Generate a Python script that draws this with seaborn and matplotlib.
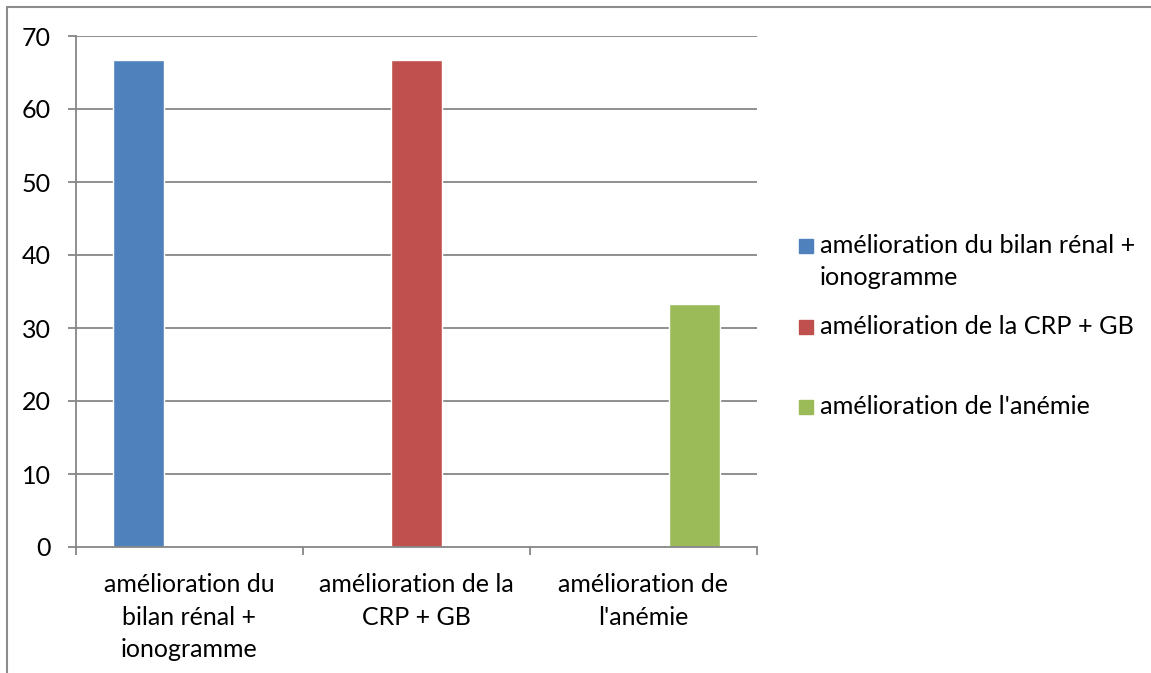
import matplotlib
matplotlib.use("Agg")
import matplotlib.pyplot as plt
from matplotlib.lines import Line2D
from matplotlib.patches import Rectangle
import numpy as np
import pandas as pd
import seaborn as sns

categories = [
    "amélioration du\nbilan rénal +\nionogramme",
    "amélioration de la\nCRP + GB",
    "amélioration de\nl'anémie",
]
series = [
    "amélioration du bilan rénal +\nionogramme",
    "amélioration de la CRP + GB",
    "amélioration de l'anémie",
]
values = [66.7, 66.7, 33.3]
colors = ["#4F81BD", "#C0504D", "#9BBB59"]
yticks = [0, 10, 20, 30, 40, 50, 60, 70]

# each series only has a value in its own category
rows = []
for i, cat in enumerate(categories):
    for j, s in enumerate(series):
        rows.append({"cat": cat, "series": s, "value": values[j] if i == j else np.nan})
df = pd.DataFrame(rows)

sns.set_style("white")
plt.rcParams["font.family"] = ["Lato", "DejaVu Sans"]

fig = plt.figure(figsize=(11.51, 6.73), dpi=100)
ax = fig.add_axes([76 / 1151, 1 - 547 / 673, (757 - 76) / 1151, (547 - 36) / 673])

sns.barplot(data=df, x="cat", y="value", hue="series", order=categories,
            hue_order=series, palette=colors, width=0.674, dodge=True,
            saturation=1, legend=False, ax=ax, errorbar=None)

grid_c = "#868686"
ax.set_ylim(0, 70)
ax.set_xlim(-0.5, 2.5)
ax.set_yticks(yticks)
ax.set_yticklabels([str(v) for v in yticks])
for v in yticks[1:]:
    ax.axhline(v, color=grid_c, lw=1.3, zorder=0)
ax.set_axisbelow(True)

for side in ["top", "right"]:
    ax.spines[side].set_visible(False)
for side in ["left", "bottom"]:
    ax.spines[side].set_color(grid_c)
    ax.spines[side].set_linewidth(1.3)

ax.set_xlabel("")
ax.set_ylabel("")
ax.set_xticks([0, 1, 2])
ax.set_xticklabels(categories, linespacing=1.5)
ax.set_xticks([-0.5, 0.5, 1.5, 2.5], minor=True)
ax.tick_params(axis="x", which="major", length=0, pad=19, labelsize=18, colors="black")
ax.tick_params(axis="x", which="minor", length=6, width=1.3, color=grid_c, direction="out")
ax.tick_params(axis="y", length=6, width=1.3, color=grid_c, direction="out",
               pad=12, labelsize=18, labelcolor="black")
ax.tick_params(axis="y", left=True)
ax.tick_params(axis="x", which="minor", bottom=True)

# legend drawn to the right of the plot area
leg_y = [246, 327, 407]
for s, c, y in zip(series, colors, leg_y):
    fig.add_artist(Rectangle((799 / 1151, 1 - (y + 7) / 673), 14 / 1151, 14 / 673,
                             transform=fig.transFigure, color=c))
    fig.text(820 / 1151, 1 - (y - 12) / 673, s, ha="left", va="top",
             fontsize=18.2, linespacing=1.47, color="black")

# outer chart border
fig.add_artist(Line2D([7 / 1151, 1], [1 - 6.5 / 673, 1 - 6.5 / 673],
                      transform=fig.transFigure, color="#8c8c8c", lw=1.5))
fig.add_artist(Line2D([7 / 1151, 7 / 1151], [0, 1 - 6.5 / 673],
                      transform=fig.transFigure, color="#8c8c8c", lw=1.5))

fig.savefig("out.png", dpi=100)
